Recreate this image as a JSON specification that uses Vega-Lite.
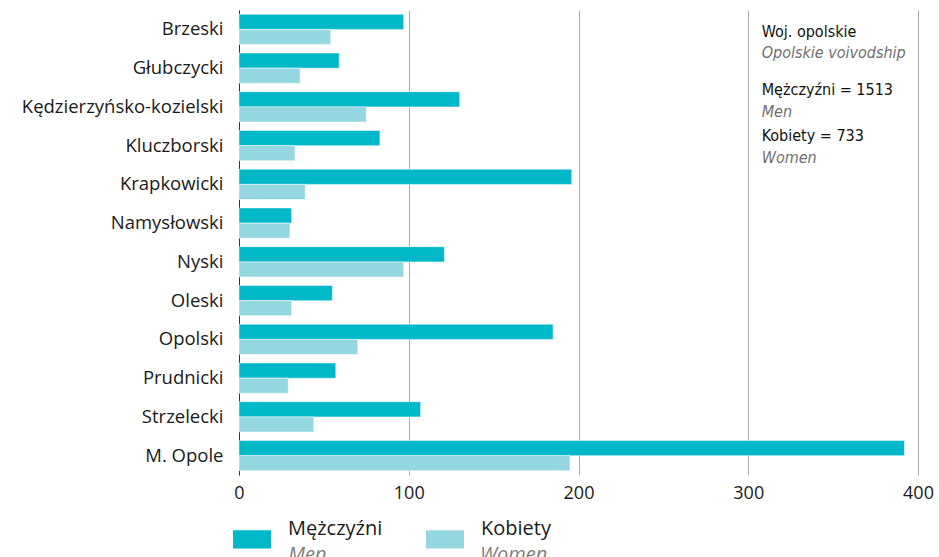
{
  "$schema": "https://vega.github.io/schema/vega-lite/v6.json",
  "width": 679,
  "height": 465,
  "autosize": {"type": "none"},
  "padding": {"left": 239, "top": 10, "right": 21, "bottom": 82},
  "background": "#ffffff",
  "config": {
    "view": {"stroke": null},
    "axis": {"labelFont": "Open Sans", "labelColor": "#1a1a1a"},
    "text": {"font": "DejaVu Sans Condensed", "fontSize": 16, "align": "left", "baseline": "alphabetic"}
  },
  "resolve": {"scale": {"y": "independent"}},
  "layer": [
    {
      "data": {
        "values": [
          {"powiat": "Brzeski", "plec": "Mężczyźni", "liczba": 97},
          {"powiat": "Brzeski", "plec": "Kobiety", "liczba": 54},
          {"powiat": "Głubczycki", "plec": "Mężczyźni", "liczba": 59},
          {"powiat": "Głubczycki", "plec": "Kobiety", "liczba": 36},
          {"powiat": "Kędzierzyńsko-kozielski", "plec": "Mężczyźni", "liczba": 130},
          {"powiat": "Kędzierzyńsko-kozielski", "plec": "Kobiety", "liczba": 75},
          {"powiat": "Kluczborski", "plec": "Mężczyźni", "liczba": 83},
          {"powiat": "Kluczborski", "plec": "Kobiety", "liczba": 33},
          {"powiat": "Krapkowicki", "plec": "Mężczyźni", "liczba": 196},
          {"powiat": "Krapkowicki", "plec": "Kobiety", "liczba": 39},
          {"powiat": "Namysłowski", "plec": "Mężczyźni", "liczba": 31},
          {"powiat": "Namysłowski", "plec": "Kobiety", "liczba": 30},
          {"powiat": "Nyski", "plec": "Mężczyźni", "liczba": 121},
          {"powiat": "Nyski", "plec": "Kobiety", "liczba": 97},
          {"powiat": "Oleski", "plec": "Mężczyźni", "liczba": 55},
          {"powiat": "Oleski", "plec": "Kobiety", "liczba": 31},
          {"powiat": "Opolski", "plec": "Mężczyźni", "liczba": 185},
          {"powiat": "Opolski", "plec": "Kobiety", "liczba": 70},
          {"powiat": "Prudnicki", "plec": "Mężczyźni", "liczba": 57},
          {"powiat": "Prudnicki", "plec": "Kobiety", "liczba": 29},
          {"powiat": "Strzelecki", "plec": "Mężczyźni", "liczba": 107},
          {"powiat": "Strzelecki", "plec": "Kobiety", "liczba": 44},
          {"powiat": "M. Opole", "plec": "Mężczyźni", "liczba": 392},
          {"powiat": "M. Opole", "plec": "Kobiety", "liczba": 195}
        ]
      },
      "mark": {"type": "bar", "stroke": "#ffffff", "strokeWidth": 0.8, "strokeOpacity": 0.6},
      "encoding": {
        "x": {
          "field": "liczba", "type": "quantitative",
          "scale": {"domain": [0, 400], "nice": false},
          "axis": {
            "title": null, "values": [0, 100, 200, 300, 400], "grid": true, "gridColor": "#aaaaaa", "gridWidth": 1,
            "domain": false, "ticks": false, "labelFontSize": 18, "labelPadding": 9, "labelFlush": false
          }
        },
        "y": {
          "field": "powiat", "type": "nominal", "sort": null,
          "scale": {"paddingInner": 0.22, "paddingOuter": 0.11},
          "axis": {
            "title": null, "ticks": false, "domain": true, "domainColor": "#333333", "domainWidth": 1,
            "labelFontSize": 18.5, "labelPadding": 16, "labelLimit": 300
          }
        },
        "yOffset": {"field": "plec", "type": "nominal", "sort": ["Mężczyźni", "Kobiety"]},
        "color": {
          "field": "plec", "type": "nominal",
          "scale": {"domain": ["Mężczyźni", "Kobiety"], "range": ["#00b8c8", "#95d7e0"]},
          "legend": {
            "title": null, "orient": "none", "legendX": -6, "legendY": 510, "direction": "horizontal",
            "padding": 0, "symbolType": "M-1,-0.48H1V0.48H-1Z", "symbolSize": 1444, "symbolStrokeWidth": 0,
            "symbolOpacity": 1, "labelFont": "Open Sans", "labelFontSize": 20, "labelColor": "#1a1a1a",
            "labelOffset": 17, "labelBaseline": "bottom", "columnPadding": 43
          }
        }
      }
    },
    {
      "data": {"values": [{"t": "Woj. opolskie"}]},
      "mark": {"type": "text", "color": "#111111"},
      "encoding": {
        "x": {"datum": 307.9, "type": "quantitative"},
        "y": {"datum": 0.697, "type": "quantitative", "scale": {"domain": [0, 12], "reverse": true, "nice": false}, "axis": null},
        "text": {"field": "t"}
      }
    },
    {
      "data": {"values": [{"t": "Opolskie voivodship"}]},
      "mark": {"type": "text", "color": "#707070", "fontStyle": "italic"},
      "encoding": {
        "x": {"datum": 307.9, "type": "quantitative"},
        "y": {"datum": 1.239, "type": "quantitative", "scale": {"domain": [0, 12], "reverse": true, "nice": false}, "axis": null},
        "text": {"field": "t"}
      }
    },
    {
      "data": {"values": [{"t": "Mężczyźni = 1513"}]},
      "mark": {"type": "text", "color": "#111111"},
      "encoding": {
        "x": {"datum": 307.9, "type": "quantitative"},
        "y": {"datum": 2.194, "type": "quantitative", "scale": {"domain": [0, 12], "reverse": true, "nice": false}, "axis": null},
        "text": {"field": "t"}
      }
    },
    {
      "data": {"values": [{"t": "Men"}]},
      "mark": {"type": "text", "color": "#707070", "fontStyle": "italic"},
      "encoding": {
        "x": {"datum": 307.9, "type": "quantitative"},
        "y": {"datum": 2.761, "type": "quantitative", "scale": {"domain": [0, 12], "reverse": true, "nice": false}, "axis": null},
        "text": {"field": "t"}
      }
    },
    {
      "data": {"values": [{"t": "Kobiety = 733"}]},
      "mark": {"type": "text", "color": "#111111"},
      "encoding": {
        "x": {"datum": 307.9, "type": "quantitative"},
        "y": {"datum": 3.368, "type": "quantitative", "scale": {"domain": [0, 12], "reverse": true, "nice": false}, "axis": null},
        "text": {"field": "t"}
      }
    },
    {
      "data": {"values": [{"t": "Women"}]},
      "mark": {"type": "text", "color": "#707070", "fontStyle": "italic"},
      "encoding": {
        "x": {"datum": 307.9, "type": "quantitative"},
        "y": {"datum": 3.948, "type": "quantitative", "scale": {"domain": [0, 12], "reverse": true, "nice": false}, "axis": null},
        "text": {"field": "t"}
      }
    },
    {
      "data": {"values": [{"t": "Men"}]},
      "mark": {"type": "text", "color": "#808080", "fontStyle": "italic", "font": "Open Sans", "fontSize": 20},
      "encoding": {
        "x": {"datum": 29.0, "type": "quantitative"},
        "y": {"datum": 14.22, "type": "quantitative", "scale": {"domain": [0, 12], "reverse": true, "nice": false}, "axis": null},
        "text": {"field": "t"}
      }
    },
    {
      "data": {"values": [{"t": "Women"}]},
      "mark": {"type": "text", "color": "#808080", "fontStyle": "italic", "font": "Open Sans", "fontSize": 20},
      "encoding": {
        "x": {"datum": 142.0, "type": "quantitative"},
        "y": {"datum": 14.22, "type": "quantitative", "scale": {"domain": [0, 12], "reverse": true, "nice": false}, "axis": null},
        "text": {"field": "t"}
      }
    }
  ]
}
